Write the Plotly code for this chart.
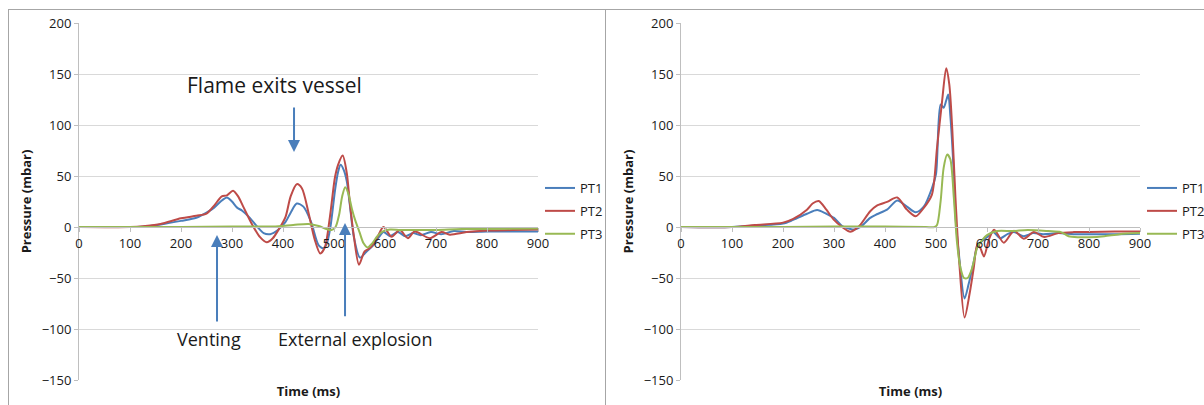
import plotly.graph_objects as go

# ---------------- data ----------------
# Left panel
L_PT1_T = [0, 100, 130, 160, 200, 230, 250, 265, 280, 290, 300, 310, 320, 335, 350, 362, 375, 390, 405, 415,
           427, 440, 455, 470, 480, 486, 493, 502, 508, 513, 519, 525, 531, 539, 551, 564, 577, 588, 597, 610,
           625, 640, 655, 670, 690, 710, 735, 760, 800, 850, 900]
L_PT1_P = [0, 0, 0.5, 2.5, 6, 9, 14, 19, 26, 29, 25, 19, 16, 9, 0, -6, -7, -3, 5, 14,
           23, 20, 5, -18, -21, -16, 0, 36, 54, 61, 56, 45, 22, -10, -30, -24, -18, -10, -5, -9,
           -5, -9, -6, -8, -5, -7, -4, -5, -4.5, -4.5, -4.5]

L_PT2_T = [0, 100, 130, 160, 200, 230, 250, 265, 280, 290, 302, 312, 322, 340, 355, 368, 380, 392, 405, 415,
           427, 437, 450, 462, 473, 482, 492, 502, 508, 517, 525, 531, 539, 549, 560, 572, 585, 597, 613, 629,
           645, 658, 688, 711, 727, 760, 800, 850, 900]
L_PT2_P = [0, 0, 1, 3, 8.5, 11, 13, 21, 30, 31, 35.5, 30, 20, 2, -10, -15, -11, -2, 10, 30,
           42, 38, 14, -12, -26, -20, 10, 49, 61, 70, 53, 24, -9, -37, -24, -20, -10, 0, -9.5, -3,
           -11, -4.5, -11, -5, -7.5, -5, -3.5, -3, -2.5]

L_PT3_T = [0, 100, 200, 300, 380, 420, 450, 470, 485, 495, 503, 510, 516, 522, 528, 535, 542, 550, 558, 566,
           575, 585, 595, 610, 630, 660, 700, 750, 800, 900]
L_PT3_P = [0, 0, 0, 0.5, 0.5, 2, 3, 1, -2, -3, 0, 12, 30, 39, 33, 18, 6, -5, -16, -20,
           -16, -9, -4.5, -2.5, -3, -3, -3, -2, -2, -1.5]

# Right panel
R_PT1_T = [0, 100, 150, 200, 220, 247, 267, 285, 300, 316, 332, 340, 352, 371, 384, 404, 424, 443, 460, 476,
           492, 500, 509, 515, 520, 524, 528, 534, 538, 545, 556, 564, 574, 581, 590, 600, 612, 626, 640, 653,
           672, 690, 710, 740, 770, 800, 850, 900]
R_PT1_P = [0, 0, 1.5, 3.3, 7, 13, 16.7, 13, 9, 1, -2, -2.5, 0, 9, 12.5, 17, 26, 20, 14.5, 20,
           38, 52, 120, 117, 124, 130, 110, 61, 12, -27, -70, -56, -34, -19, -14, -10, -5, -11, -7, -5,
           -9, -6, -7, -6, -7, -7, -7, -6.5]

R_PT2_T = [0, 100, 145, 200, 220, 247, 258, 270, 285, 299, 316, 332, 345, 352, 371, 384, 404, 424, 443, 460,
           476, 492, 502, 512, 520, 526, 532, 538, 545, 556, 566, 574, 581, 587, 594, 604, 614, 633, 653, 672,
           692, 712, 740, 770, 800, 850, 900]
R_PT2_P = [0, 0, 2, 4.3, 8, 17, 23, 25.5, 17, 7.5, 0, -4.6, -1, 2.3, 15.4, 21, 24.6, 29, 17, 10.5,
           18.7, 31.8, 77.7, 123.6, 155.7, 140, 95, 30, -30, -88.8, -65, -40, -17, -20.6, -28.8, -12, -2.6, -15.4, -3.6, -11.5,
           -5, -9.8, -6, -5, -5, -4.5, -4.5]

R_PT3_T = [0, 100, 200, 300, 400, 480, 497, 502, 509, 515, 522, 528, 535, 541, 548, 555, 562, 571, 581, 590,
           600, 620, 650, 680, 720, 745, 760, 780, 800, 830, 860, 900]
R_PT3_P = [0, 0, 0, 0.5, 0.5, 0, 0, 2, 25, 58, 71, 66.5, 28.5, -14, -40, -50, -50, -40, -20, -13,
           -8, -4, -4, -3, -4, -5, -9, -10, -10, -9, -7, -6]

SERIES = ["PT1", "PT2", "PT3"]
COLORS = ["#4a7ebb", "#be4b48", "#98b954"]
Y_TICKS = [-150, -100, -50, 0, 50, 100, 150, 200]
X_TICKS = [0, 100, 200, 300, 400, 500, 600, 700, 800, 900]

# ---------------- layout geometry ----------------
W, H = 1204, 405
FONT = "Open Sans"
TXT = "#1a1a1a"
GRID = "#d9d9d9"
AXL = "#bfbfbf"
Y_RANGE = [-150, 200]
X_RANGE = [0, 900]

def px_x(p):
    return p / W

def px_y(p):
    return (H - p) / H

y_dom = [px_y(380), px_y(23)]
left_dom = [px_x(79), px_x(538)]
right_dom = [px_x(681), px_x(1140)]
zero_pos = y_dom[0] + (0 - Y_RANGE[0]) / (Y_RANGE[1] - Y_RANGE[0]) * (y_dom[1] - y_dom[0])

fig = go.Figure()

left = [(L_PT1_T, L_PT1_P), (L_PT2_T, L_PT2_P), (L_PT3_T, L_PT3_P)]
right = [(R_PT1_T, R_PT1_P), (R_PT2_T, R_PT2_P), (R_PT3_T, R_PT3_P)]

for i, (t, p) in enumerate(left):
    fig.add_trace(go.Scatter(x=t, y=p, mode="lines", name=SERIES[i], xaxis="x", yaxis="y",
                             line=dict(color=COLORS[i], width=2, shape="spline", smoothing=0.8),
                             legend="legend", legendgroup="L" + SERIES[i]))
for i, (t, p) in enumerate(right):
    fig.add_trace(go.Scatter(x=t, y=p, mode="lines", name=SERIES[i], xaxis="x2", yaxis="y2",
                             line=dict(color=COLORS[i], width=2, shape="spline", smoothing=0.8),
                             legend="legend2", legendgroup="R" + SERIES[i]))

tickfont = dict(family=FONT, size=13, color=TXT)
titlefont = dict(family=FONT, size=13, color=TXT, weight="bold")

def yaxis_cfg(anchor):
    return dict(domain=y_dom, range=Y_RANGE, tickvals=Y_TICKS, anchor=anchor,
                showgrid=True, gridcolor=GRID, gridwidth=1, zeroline=False,
                showline=True, linecolor=AXL, linewidth=1,
                ticks="outside", ticklen=4, tickcolor=AXL, tickfont=tickfont,
                title=dict(text="Pressure (mbar)", font=titlefont, standoff=7))

def xaxis_cfg(dom):
    # x axis crosses at pressure 0 (Excel style); its title sits at the bottom of the plot area
    return dict(domain=dom, anchor="free", position=zero_pos, range=X_RANGE, tickvals=X_TICKS,
                showgrid=False, zeroline=False, showline=True, linecolor=AXL, linewidth=1,
                ticks="outside", ticklen=4, tickcolor=AXL, tickfont=tickfont,
                title=dict(text="Time (ms)", font=titlefont, standoff=136))

legend_common = dict(font=dict(family=FONT, size=13, color=TXT), bgcolor="rgba(0,0,0,0)",
                     traceorder="grouped", tracegroupgap=3, xanchor="left", yanchor="top",
                     itemclick=False, itemdoubleclick=False)

fig.update_layout(
    width=W, height=H,
    margin=dict(l=0, r=0, t=0, b=0, autoexpand=False),
    paper_bgcolor="white", plot_bgcolor="white",
    font=dict(family=FONT, color=TXT),
    xaxis=xaxis_cfg(left_dom),
    yaxis=yaxis_cfg("x"),
    xaxis2=xaxis_cfg(right_dom),
    yaxis2=yaxis_cfg("x2"),
    legend=dict(x=px_x(540), y=px_y(173), **legend_common),
    legend2=dict(x=px_x(1142), y=px_y(173), **legend_common),
    showlegend=True,
)

# annotations on left panel
ARROW = "#4a7ebb"
arrows = [(421.6, 73.5, 421.6, 118.6), (270.6, -7.8, 270.6, -94), (521.6, 4, 521.6, -89)]
for hx, hy, tx, ty in arrows:
    fig.add_annotation(x=hx, y=hy, ax=tx, ay=ty, xref="x", yref="y", axref="x", ayref="y",
                       text="", showarrow=True, arrowhead=2, arrowsize=1.2, arrowwidth=2,
                       arrowcolor=ARROW)

labels = [("Flame exits vessel", 384, 139, 21), ("Venting", 255, -110, 18),
          ("External explosion", 541, -110, 18)]
for txt, lx, ly, fs in labels:
    fig.add_annotation(x=lx, y=ly, xref="x", yref="y", text=txt, showarrow=False,
                       font=dict(family=FONT, size=fs, color=TXT))

# chart frames
FRAME = "#a6a6a6"
fig.add_shape(type="line", xref="paper", yref="paper", x0=px_x(8), x1=1, y0=px_y(9.5), y1=px_y(9.5),
              line=dict(color=FRAME, width=1))
fig.add_shape(type="line", xref="paper", yref="paper", x0=px_x(8.5), x1=px_x(8.5), y0=0, y1=px_y(9),
              line=dict(color=FRAME, width=1))
fig.add_shape(type="line", xref="paper", yref="paper", x0=px_x(605.5), x1=px_x(605.5), y0=0, y1=px_y(9),
              line=dict(color=FRAME, width=1))

fig.write_html("out.html")
